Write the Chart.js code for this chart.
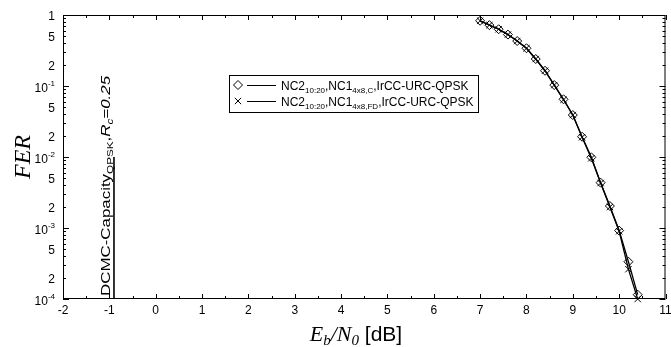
<!DOCTYPE html>
<html>
<head>
<meta charset="utf-8">
<script src="https://cdn.jsdelivr.net/npm/chart.js@4"></script>
<style>
  html, body { margin: 0; padding: 0; background: #fff; }
</style>
</head>
<body>
<canvas id="fer" width="671" height="347"></canvas>
<script>
// Eb/N0 points (dB) and frame error rates of the two schemes
const ebn0  = [7.0, 7.2, 7.4, 7.6, 7.8, 8.0, 8.2, 8.4, 8.6, 8.8, 9.0, 9.2, 9.4, 9.6, 9.8, 10.0, 10.2, 10.4];
const ferC  = [0.83, 0.72, 0.63, 0.53, 0.43, 0.34, 0.24, 0.164, 0.103, 0.065, 0.039, 0.0193, 0.0099, 0.00435, 0.00204, 0.00092, 0.000335, 0.000115];
const ferFD = [0.83, 0.72, 0.63, 0.53, 0.43, 0.34, 0.24, 0.164, 0.103, 0.064, 0.039, 0.0190, 0.0096, 0.00430, 0.00198, 0.00090, 0.000263, 0.000100];

// DCMC capacity marker
const capX = [-0.9, -0.9];
const capY = [1e-4, 1e-2];

const xTicks = [-2, -1, 0, 1, 2, 3, 4, 5, 6, 7, 8, 9, 10, 11];
const yDecades = [-4, -3, -2, -1, 0];

const SANS = '"Liberation Sans", Arial, Helvetica, sans-serif';
const SERIF = '"Liberation Serif", "Times New Roman", serif';

// draws a run of text pieces (normal / sub / sup) starting at x
function richWidth(ctx, parts) {
  let w = 0;
  parts.forEach(p => {
    ctx.font = (p.it ? 'italic ' : '') + p.size + 'px ' + (p.fam || SANS);
    w += ctx.measureText(p.t).width;
  });
  return w;
}
function drawRich(ctx, parts, x, y, align) {
  const w = richWidth(ctx, parts);
  let cx = align === 'right' ? x - w : align === 'center' ? x - w / 2 : x;
  ctx.textAlign = 'left';
  ctx.textBaseline = 'alphabetic';
  parts.forEach(p => {
    ctx.font = (p.it ? 'italic ' : '') + p.size + 'px ' + (p.fam || SANS);
    ctx.fillText(p.t, cx, y + (p.dy || 0));
    cx += ctx.measureText(p.t).width;
  });
}

const axesPlugin = {
  id: 'axesPlugin',
  afterDraw(chart) {
    const ctx = chart.ctx;
    const xs = chart.scales.x, ys = chart.scales.y;
    const a = chart.chartArea;
    ctx.save();
    ctx.strokeStyle = '#000';
    ctx.fillStyle = '#000';
    ctx.lineWidth = 1;

    // frame
    ctx.strokeRect(a.left + 0.5, a.top + 0.5, a.right - a.left - 1, a.bottom - a.top - 1);

    // x ticks, majors every 1 dB, minors every 0.5 dB
    ctx.beginPath();
    xTicks.forEach((v, i) => {
      const px = Math.round(xs.getPixelForValue(v)) + 0.5;
      ctx.moveTo(px, a.bottom); ctx.lineTo(px, a.bottom - 5);
      ctx.moveTo(px, a.top); ctx.lineTo(px, a.top + 5);
      if (i < xTicks.length - 1) {
        const pm = Math.round(xs.getPixelForValue(v + 0.5)) + 0.5;
        ctx.moveTo(pm, a.bottom); ctx.lineTo(pm, a.bottom - 3);
        ctx.moveTo(pm, a.top); ctx.lineTo(pm, a.top + 3);
      }
    });
    // y ticks on both sides
    yDecades.forEach(e => {
      const d = Math.pow(10, e);
      const py = Math.round(ys.getPixelForValue(d)) + 0.5;
      ctx.moveTo(a.left, py); ctx.lineTo(a.left + 6, py);
      ctx.moveTo(a.right, py); ctx.lineTo(a.right - 6, py);
      if (e < 0) {
        for (let m = 2; m <= 9; m++) {
          const pm = Math.round(ys.getPixelForValue(m * d)) + 0.5;
          ctx.moveTo(a.left, pm); ctx.lineTo(a.left + 3, pm);
          ctx.moveTo(a.right, pm); ctx.lineTo(a.right - 3, pm);
        }
      }
    });
    ctx.stroke();

    // x tick labels
    ctx.font = '12px ' + SANS;
    ctx.textAlign = 'center';
    ctx.textBaseline = 'middle';
    xTicks.forEach(v => ctx.fillText(String(v), xs.getPixelForValue(v), a.bottom + 12));

    // y tick labels: decades as powers of ten, 5 and 2 in between
    yDecades.forEach(e => {
      const py = ys.getPixelForValue(Math.pow(10, e));
      if (e === 0) {
        drawRich(ctx, [{ t: '1', size: 12 }], a.left - 8, py + 5, 'right');
      } else {
        drawRich(ctx, [{ t: '10', size: 12 }, { t: String(e), size: 8, dy: -6 }], a.left - 8, py + 6, 'right');
      }
      if (e < 0) {
        [5, 2].forEach(m => {
          const pm = ys.getPixelForValue(m * Math.pow(10, e));
          drawRich(ctx, [{ t: String(m), size: 12 }], a.left - 8, pm + 5, 'right');
        });
      }
    });

    // axis titles
    drawRich(ctx, [
      { t: 'E', size: 22, it: true, fam: SERIF },
      { t: 'b', size: 15, it: true, fam: SERIF, dy: 4 },
      { t: '/N', size: 22, it: true, fam: SERIF },
      { t: '0', size: 15, it: true, fam: SERIF, dy: 4 },
      { t: ' [dB]', size: 21 }
    ], 356, 341, 'center');

    ctx.save();
    ctx.translate(30, (a.top + a.bottom) / 2);
    ctx.rotate(-Math.PI / 2);
    drawRich(ctx, [{ t: 'FER', size: 24, it: true, fam: SERIF }], 0, 0, 'center');
    ctx.restore();

    // capacity label, written upwards beside the line (stretched lengthwise)
    ctx.save();
    ctx.translate(xs.getPixelForValue(capX[0]) - 4, a.bottom - 3);
    ctx.rotate(-Math.PI / 2);
    ctx.scale(1.3, 1);
    drawRich(ctx, [
      { t: 'DCMC-Capacity', size: 13 },
      { t: 'QPSK', size: 9, dy: 3 },
      { t: ',', size: 13 },
      { t: 'R', size: 13, it: true },
      { t: 'c', size: 9, it: true, dy: 3 },
      { t: '=0.25', size: 13, it: true }
    ], 0, 0, 'left');
    ctx.restore();

    // legend
    const lx = 229, ly = 75, lw = 249, lh = 37;
    ctx.fillStyle = '#fff';
    ctx.fillRect(lx, ly, lw, lh);
    ctx.strokeRect(lx + 0.5, ly + 0.5, lw, lh);
    const rows = [
      { style: 'rectRot', sub: '4x8,C' },
      { style: 'crossRot', sub: '4x8,FD' }
    ];
    rows.forEach((r, i) => {
      const cy = ly + 10 + i * 16;
      ctx.fillStyle = '#fff';
      Chart.helpers.drawPoint(ctx, { pointStyle: r.style, radius: 4.5, borderWidth: 1 }, 238, cy);
      ctx.fillStyle = '#000';
      ctx.beginPath();
      ctx.moveTo(247, cy + 0.5); ctx.lineTo(276, cy + 0.5);
      ctx.stroke();
      drawRich(ctx, [
        { t: 'NC2', size: 12 },
        { t: '10:20', size: 8, dy: 3 },
        { t: ',NC1', size: 12 },
        { t: r.sub, size: 8, dy: 3 },
        { t: ',IrCC-URC-QPSK', size: 12 }
      ], 281, cy + 4.5, 'left');
    });

    ctx.restore();
  }
};

const pts = (xv, yv) => xv.map((x, i) => ({ x: x, y: yv[i] }));

new Chart(document.getElementById('fer'), {
  type: 'line',
  data: {
    datasets: [
      {
        data: pts(ebn0, ferC),
        borderColor: '#000', borderWidth: 1.3,
        pointStyle: 'rectRot', pointRadius: 4.5,
        pointBorderColor: '#000', pointBackgroundColor: 'rgba(255,255,255,0)', pointBorderWidth: 1,
        clip: 8
      },
      {
        data: pts(ebn0, ferFD),
        borderColor: '#000', borderWidth: 1.3,
        pointStyle: 'crossRot', pointRadius: 4.5,
        pointBorderColor: '#000', pointBorderWidth: 1,
        clip: 8
      },
      {
        data: pts(capX, capY),
        borderColor: '#000', borderWidth: 1.6,
        pointRadius: 0
      }
    ]
  },
  options: {
    responsive: false,
    animation: false,
    devicePixelRatio: 1,
    layout: { padding: { left: 63, top: 15, right: 5, bottom: 48 } },
    plugins: { legend: { display: false }, tooltip: { enabled: false } },
    scales: {
      x: { type: 'linear', min: -2, max: 11, display: false },
      y: { type: 'logarithmic', min: 1e-4, max: 1, display: false }
    }
  },
  plugins: [axesPlugin]
});
</script>
</body>
</html>
